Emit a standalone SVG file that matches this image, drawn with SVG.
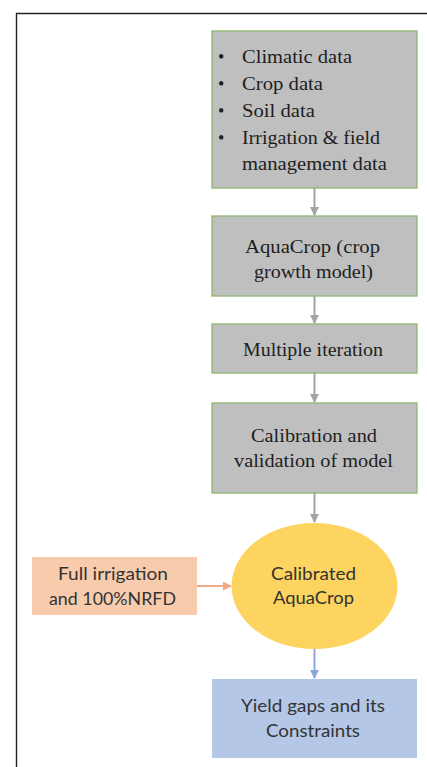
<svg xmlns="http://www.w3.org/2000/svg" width="427" height="767" viewBox="0 0 427 767">
<style>
.g{fill:#bfbfbf;stroke:#8fb56e;stroke-width:1.3}
.s{font-family:"Liberation Serif","Times New Roman",serif;font-size:18px;fill:#1e1e1e}
.f{font-family:Lato,"Open Sans",sans-serif;font-size:17.5px;fill:#333}
.c{stroke-width:2;fill:none}
</style>
<defs>
<marker id="ag" viewBox="0 0 10 10" refX="9" refY="5" markerWidth="4.5" markerHeight="4.5" orient="auto"><path d="M0,0 L10,5 L0,10 z" fill="#a3a3a3"/></marker>
<marker id="ao" viewBox="0 0 10 10" refX="9" refY="5" markerWidth="4.5" markerHeight="4.5" orient="auto"><path d="M0,0 L10,5 L0,10 z" fill="#f1a983"/></marker>
<marker id="ab" viewBox="0 0 10 10" refX="9" refY="5" markerWidth="4.5" markerHeight="4.5" orient="auto"><path d="M0,0 L10,5 L0,10 z" fill="#8da7d9"/></marker>
</defs>
<rect width="427" height="767" fill="#fff"/>
<path d="M427,13.5 H16.5 V767" fill="none" stroke="#222" stroke-width="1.4"/>
<g id="connectors">
<path class="c" d="M314.5,188 V215" stroke="#a3a3a3" marker-end="url(#ag)"/>
<path class="c" d="M314.5,296 V323" stroke="#a3a3a3" marker-end="url(#ag)"/>
<path class="c" d="M314.5,373 V402" stroke="#a3a3a3" marker-end="url(#ag)"/>
<path class="c" d="M314.5,493 V522" stroke="#a3a3a3" marker-end="url(#ag)"/>
<path class="c" d="M197,586 H231" stroke="#f1a983" marker-end="url(#ao)"/>
<path class="c" d="M314.5,649 V678" stroke="#8da7d9" marker-end="url(#ab)"/>
</g>
<g id="inputs">
<rect class="g" x="212" y="31" width="205" height="157"/>
<g class="s">
<text x="218" y="63">•</text><text x="242" y="63" textLength="110" lengthAdjust="spacingAndGlyphs">Climatic  data</text>
<text x="218" y="90">•</text><text x="242" y="90" textLength="81" lengthAdjust="spacingAndGlyphs">Crop data</text>
<text x="218" y="117">•</text><text x="242" y="117" textLength="73" lengthAdjust="spacingAndGlyphs">Soil  data</text>
<text x="218" y="144">•</text><text x="242" y="144" textLength="138" lengthAdjust="spacingAndGlyphs">Irrigation  &amp; field</text>
<text x="242" y="170" textLength="145" lengthAdjust="spacingAndGlyphs">management  data</text>
</g>
</g>
<g id="aquacrop">
<rect class="g" x="212" y="216" width="205" height="80"/>
<text class="s" x="245" y="253" textLength="135" lengthAdjust="spacingAndGlyphs">AquaCrop  (crop</text>
<text class="s" x="254" y="278" textLength="119" lengthAdjust="spacingAndGlyphs">growth  model)</text>
</g>
<g id="iteration">
<rect class="g" x="212" y="324" width="205" height="49"/>
<text class="s" x="243" y="356" textLength="140" lengthAdjust="spacingAndGlyphs">Multiple  iteration</text>
</g>
<g id="calibration">
<rect class="g" x="212" y="403" width="205" height="90"/>
<text class="s" x="251" y="442" textLength="126" lengthAdjust="spacingAndGlyphs">Calibration  and</text>
<text class="s" x="234" y="467" textLength="159" lengthAdjust="spacingAndGlyphs">validation  of model</text>
</g>
<g id="full-irrigation">
<rect x="32" y="557" width="165" height="58" fill="#f8cbad"/>
<text class="f" x="58" y="580" textLength="110" lengthAdjust="spacingAndGlyphs">Full irrigation</text>
<text class="f" x="49" y="605" textLength="127" lengthAdjust="spacingAndGlyphs">and 100%NRFD</text>
</g>
<g id="calibrated">
<ellipse cx="314.5" cy="586" rx="83" ry="63" fill="#fcd45f"/>
<text class="f" x="271" y="580" textLength="85" lengthAdjust="spacingAndGlyphs">Calibrated</text>
<text class="f" x="273" y="604" textLength="81" lengthAdjust="spacingAndGlyphs">AquaCrop</text>
</g>
<g id="yield">
<rect x="212" y="679" width="205" height="79" fill="#b4c7e7"/>
<text class="f" x="241" y="712" textLength="144" lengthAdjust="spacingAndGlyphs">Yield gaps and its</text>
<text class="f" x="266" y="737" textLength="94" lengthAdjust="spacingAndGlyphs">Constraints</text>
</g>
</svg>
